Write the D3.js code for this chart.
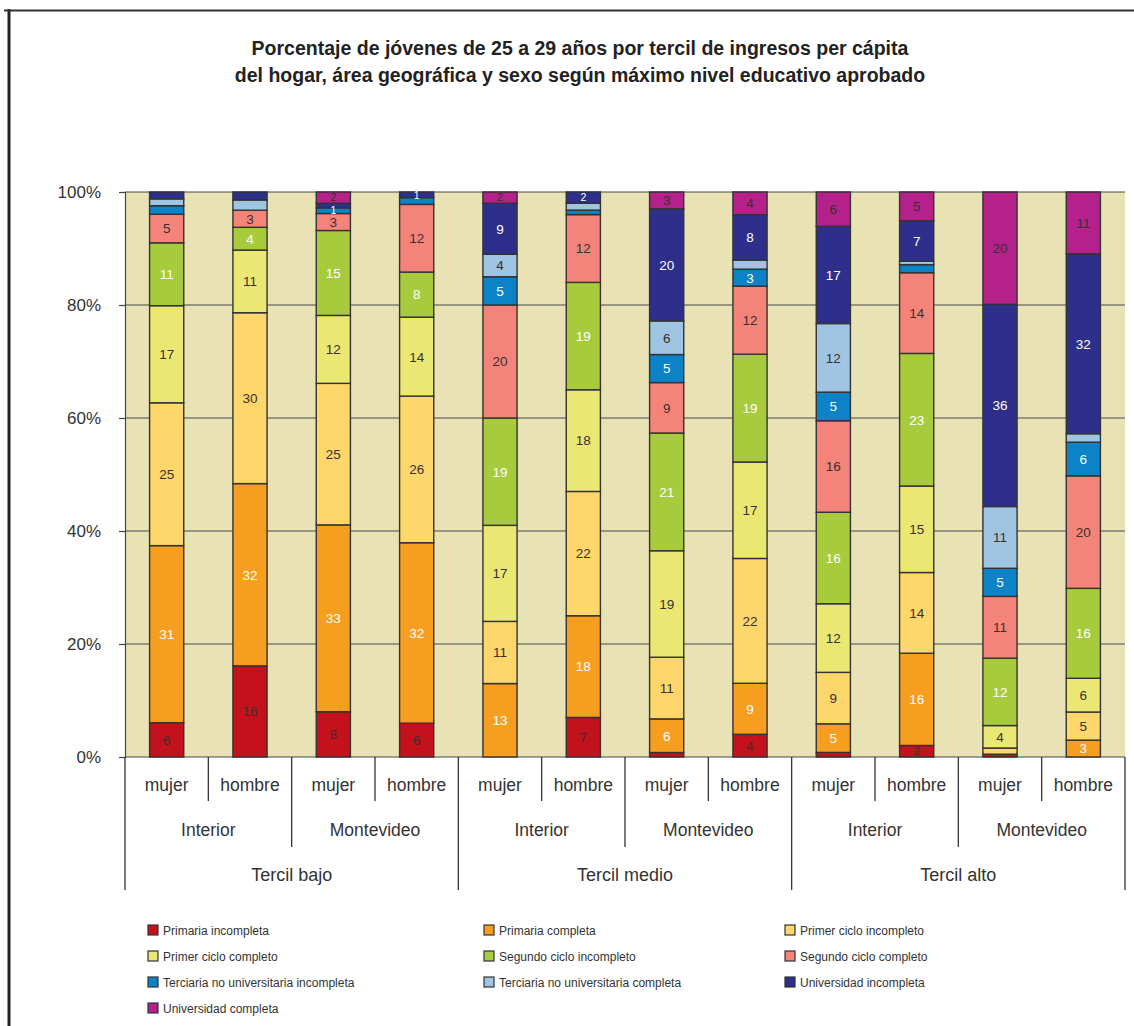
<!DOCTYPE html>
<html lang="es">
<head>
<meta charset="utf-8">
<script src="https://cdn.jsdelivr.net/npm/d3@7"></script>
<style>
  html, body { margin: 0; padding: 0; background: #fff; }
  svg { display: block; font-family: "Liberation Sans", Arial, sans-serif; }
</style>
</head>
<body>
<svg id="chart" width="1134" height="1026"></svg>
<script>
// Education levels, bottom to top of each stack
const levels = [
  "Primaria incompleta", "Primaria completa", "Primer ciclo incompleto",
  "Primer ciclo completo", "Segundo ciclo incompleto", "Segundo ciclo completo",
  "Terciaria no universitaria incompleta", "Terciaria no universitaria completa",
  "Universidad incompleta", "Universidad completa"
];
const levelColors = [
  "#c4121c", "#f69e1f", "#fdd66c", "#ebe773", "#a7cb3c",
  "#f4847a", "#0c82c7", "#9fc5e2", "#2e2f8b", "#b4218a"
];
// white figures on the darker fills
const labelOnDark = [false, true, false, false, true, false, true, false, true, false];

const terciles = ["Tercil bajo", "Tercil medio", "Tercil alto"];
const areas = ["Interior", "Montevideo"];
const sexes = ["mujer", "hombre"];

// Percentages per bar (tercil > área > sexo), one list per education level
const primariaIncompleta      = [6, 16, 8, 6,   0, 7, 0.8, 4,   0.8, 2, 0.5, 0];
const primariaCompleta        = [31, 32, 33, 32,   13, 18, 6, 9,   5, 16, 0, 3];
const primerCicloIncompleto   = [25, 30, 25, 26,   11, 22, 11, 22,   9, 14, 1.1, 5];
const primerCicloCompleto     = [17, 11, 12, 14,   17, 18, 19, 17,   12, 15, 4, 6];
const segundoCicloIncompleto  = [11, 4, 15, 8,   19, 19, 21, 19,   16, 23, 12, 16];
const segundoCicloCompleto    = [5, 3, 3, 12,   20, 12, 9, 12,   16, 14, 11, 20];
const terciariaIncompleta     = [1.5, 0, 1, 1.2,   5, 0.8, 5, 3,   5, 1.4, 5, 6];
const terciariaCompleta       = [1.2, 1.8, 0, 0,   4, 1.2, 6, 1.6,   12, 0.6, 11, 1.5];
const universidadIncompleta   = [1.2, 1.4, 0.8, 1,   9, 2, 20, 8,   17, 7, 36, 32];
const universidadCompleta     = [0, 0, 2, 0,   2, 0, 3, 4,   6, 5, 20, 11];

const yTicks = [0, 0.2, 0.4, 0.6, 0.8, 1];

const series = [
  primariaIncompleta, primariaCompleta, primerCicloIncompleto, primerCicloCompleto,
  segundoCicloIncompleto, segundoCicloCompleto, terciariaIncompleta, terciariaCompleta,
  universidadIncompleta, universidadCompleta
];

// One row per bar
const rows = [];
terciles.forEach((t, ti) => areas.forEach((a, ai) => sexes.forEach((s, si) => {
  const i = ti * 4 + ai * 2 + si;
  const row = { id: i, tercil: t, area: a, sexo: s };
  levels.forEach((lv, k) => row[lv] = series[k][i]);
  rows.push(row);
})));

const svg = d3.select("#chart");
const plot = { left: 125, right: 1125, top: 192, bottom: 757 };
const textColor = "#333";

// Outer frame
svg.append("line").attr("x1", 9).attr("x2", 9).attr("y1", 9).attr("y2", 1026)
  .attr("stroke", "#222").attr("stroke-width", 3);
svg.append("line").attr("x1", 4).attr("x2", 1134).attr("y1", 10.5).attr("y2", 10.5)
  .attr("stroke", "#333").attr("stroke-width", 2);

// Title
const title = svg.append("text").attr("text-anchor", "middle")
  .attr("font-weight", "bold").attr("font-size", 19.5).attr("fill", "#222");
title.append("tspan").attr("x", 580).attr("y", 55)
  .text("Porcentaje de jóvenes de 25 a 29 años por tercil de ingresos per cápita");
title.append("tspan").attr("x", 580).attr("y", 82)
  .text("del hogar, área geográfica y sexo según máximo nivel educativo aprobado");

const x = d3.scaleBand()
  .domain(rows.map(d => d.id))
  .range([plot.left, plot.right])
  .paddingInner(0.59).paddingOuter(0.295);
const y = d3.scaleLinear().domain([0, 1]).range([plot.bottom, plot.top]);

// Plot background
svg.append("rect")
  .attr("x", plot.left).attr("y", plot.top)
  .attr("width", plot.right - plot.left).attr("height", plot.bottom - plot.top)
  .attr("fill", "#e8e2b5");

// Y axis
const yAxis = d3.axisLeft(y).tickValues(yTicks).tickFormat(d3.format(".0%"))
  .tickSize(6).tickPadding(18);
const gy = svg.append("g").attr("transform", `translate(${plot.left},0)`).call(yAxis);
gy.select(".domain").attr("stroke", "#444").attr("stroke-width", 1.2);
gy.selectAll(".tick line").attr("stroke", "#444").attr("stroke-width", 1.2);
gy.selectAll(".tick text").attr("font-size", 17).attr("fill", textColor)
  .attr("font-family", "'Liberation Sans', Arial, sans-serif");

// Horizontal gridlines
svg.append("g").selectAll("line").data(yTicks).join("line")
  .attr("x1", plot.left).attr("x2", plot.right)
  .attr("y1", d => y(d)).attr("y2", d => y(d))
  .attr("stroke", "#4a4a4a").attr("stroke-width", 1.2);

// Stacked bars normalised to 100 %
const stacked = d3.stack().keys(levels).offset(d3.stackOffsetExpand)(rows);
const fmt = v => String(Math.round(v));
const labelled = v => v >= 2 || v === 1;

const layers = svg.append("g").selectAll("g").data(stacked).join("g")
  .attr("fill", (d, k) => levelColors[k]);

layers.selectAll("rect").data(d => d.filter(p => p.data[d.key] > 0)).join("rect")
  .attr("x", p => x(p.data.id))
  .attr("width", x.bandwidth())
  .attr("y", p => y(p[1]))
  .attr("height", p => y(p[0]) - y(p[1]))
  .attr("stroke", "#333").attr("stroke-width", 1.4);

stacked.forEach((layer, k) => {
  svg.append("g").selectAll("text")
    .data(layer.filter(p => labelled(p.data[layer.key])))
    .join("text")
    .attr("x", p => x(p.data.id) + x.bandwidth() / 2)
    .attr("y", p => (y(p[0]) + y(p[1])) / 2)
    .attr("dy", "0.36em")
    .attr("text-anchor", "middle")
    .attr("font-size", p => (y(p[0]) - y(p[1])) < 12 ? 10.5 : 13.5)
    .attr("fill", labelOnDark[k] ? "#fff" : "#3a3030")
    .text(p => fmt(p.data[layer.key]));
});

// Category table under the bars
const step = x.step();
const rowY = [plot.bottom, 801, 847, 890];
const lineStyle = sel => sel.attr("stroke", "#333").attr("stroke-width", 1.3);
const table = svg.append("g");
d3.range(13).forEach(b => {
  const xb = plot.left + b * step;
  let depth = 1;
  if (b % 2 === 0) depth = 2;
  if (b % 4 === 0) depth = 3;
  table.append("line").attr("x1", xb).attr("x2", xb)
    .attr("y1", plot.bottom).attr("y2", rowY[depth]).call(lineStyle);
});
table.selectAll("text.sexo").data(rows).join("text")
  .attr("class", "sexo")
  .attr("x", d => x(d.id) + x.bandwidth() / 2)
  .attr("y", 791).attr("text-anchor", "middle")
  .attr("font-size", 17.5).attr("fill", textColor).text(d => d.sexo);
const areaRows = rows.filter(d => d.sexo === sexes[0]);
table.selectAll("text.area").data(areaRows).join("text")
  .attr("class", "area")
  .attr("x", d => plot.left + (d.id + 1) * step)
  .attr("y", 836).attr("text-anchor", "middle")
  .attr("font-size", 17.5).attr("fill", textColor).text(d => d.area);
table.selectAll("text.tercil").data(terciles).join("text")
  .attr("class", "tercil")
  .attr("x", (d, i) => plot.left + (i * 4 + 2) * step)
  .attr("y", 881).attr("text-anchor", "middle")
  .attr("font-size", 18).attr("fill", textColor).text(d => d);

// Legend
const legendCols = [148, 484, 785];
const legend = svg.append("g").selectAll("g").data(levels).join("g")
  .attr("transform", (d, i) => `translate(${legendCols[i % 3]},${925 + Math.floor(i / 3) * 26})`);
legend.append("rect").attr("width", 10).attr("height", 10)
  .attr("fill", (d, i) => levelColors[i]).attr("stroke", "#333").attr("stroke-width", 1.2);
legend.append("text").attr("x", 15).attr("y", 9.5)
  .attr("font-size", 12).attr("fill", textColor).text(d => d);
</script>
</body>
</html>
